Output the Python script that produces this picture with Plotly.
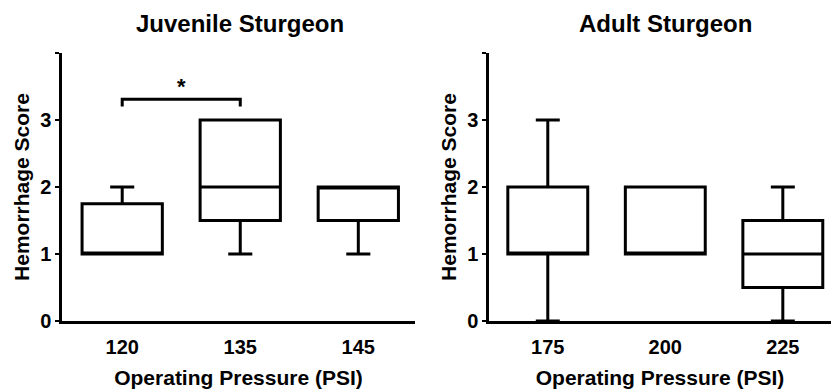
import plotly.graph_objects as go

# ---- data ----
juv_pressure = ["120", "135", "145"]
juv_min = [1, 1, 1]
juv_q1 = [1, 1.5, 1.5]
juv_median = [1, 2, 2]
juv_q3 = [1.75, 3, 2]
juv_max = [2, 3, 2]

adult_pressure = ["175", "200", "225"]
adult_min = [0, 1, 0]
adult_q1 = [1, 1, 0.5]
adult_median = [1, 1, 1]
adult_q3 = [2, 2, 1.5]
adult_max = [3, 2, 2]

y_ticks = [0, 1, 2, 3, 4]
y_ticktext = ["0", "1", "2", "3", ""]

bracket_x = ["120", "120", "135", "135"]
bracket_y = [3.2, 3.31, 3.31, 3.2]

FONT = "Liberation Sans, Arial, sans-serif"

fig = go.Figure()

box_style = dict(
    fillcolor="white",
    line=dict(color="black", width=3),
    whiskerwidth=0.3,
    hoverinfo="skip",
    showlegend=False,
    boxpoints=False,
)

fig.add_trace(go.Box(
    x=juv_pressure, q1=juv_q1, median=juv_median, q3=juv_q3,
    lowerfence=juv_min, upperfence=juv_max,
    xaxis="x", yaxis="y", **box_style))

fig.add_trace(go.Box(
    x=adult_pressure, q1=adult_q1, median=adult_median, q3=adult_q3,
    lowerfence=adult_min, upperfence=adult_max,
    xaxis="x2", yaxis="y2", **box_style))

fig.add_trace(go.Scatter(
    x=bracket_x, y=bracket_y, mode="lines",
    line=dict(color="black", width=3),
    xaxis="x", yaxis="y", hoverinfo="skip", showlegend=False))

xcommon = dict(
    type="category", showline=True, linecolor="black", linewidth=2.5,
    ticks="", showgrid=False, zeroline=False,
    tickfont=dict(family=FONT, size=20, color="black", weight="bold"),
    title=dict(text="<b>Operating Pressure (PSI)</b>",
               font=dict(family=FONT, size=21, color="black"), standoff=16),
    ticklabelstandoff=6,
)
ycommon = dict(
    range=[0, 4], tickvals=y_ticks, ticktext=y_ticktext,
    showline=True, linecolor="black", linewidth=2.5,
    ticks="outside", ticklen=4, tickwidth=2, tickcolor="black",
    showgrid=False, zeroline=False,
    tickfont=dict(family=FONT, size=20, color="black", weight="bold"),
    title=dict(text="<b>Hemorrhage Score</b>",
               font=dict(family=FONT, size=21, color="black"), standoff=5),
)

fig.update_layout(
    width=831, height=389,
    margin=dict(l=62, r=0, t=53, b=68),
    paper_bgcolor="white", plot_bgcolor="white",
    boxgap=0.32, boxgroupgap=0,
    xaxis=dict(domain=[0, 0.459], range=[-0.51, 2.48], anchor="y", **xcommon),
    yaxis=dict(anchor="x", **ycommon),
    xaxis2=dict(domain=[0.5553, 1], range=[-0.5, 2.41], anchor="y2", **xcommon),
    yaxis2=dict(anchor="x2", **ycommon),
    annotations=[
        dict(text="<b>Juvenile Sturgeon</b>", xref="x domain", yref="paper",
             x=0.505, y=1, yanchor="middle", yshift=30,
             showarrow=False, font=dict(family=FONT, size=24, color="black")),
        dict(text="<b>Adult Sturgeon</b>", xref="x2 domain", yref="paper",
             x=0.515, y=1, yanchor="middle", yshift=30,
             showarrow=False, font=dict(family=FONT, size=24, color="black")),
        dict(text="<b>*</b>", xref="x", yref="y", x=0.5, y=3.5,
             showarrow=False, font=dict(family=FONT, size=22, color="black")),
    ],
)

fig.write_html("out.html", config={"displayModeBar": False},
               post_script="document.body.style.margin='0';document.body.style.padding='0';")
